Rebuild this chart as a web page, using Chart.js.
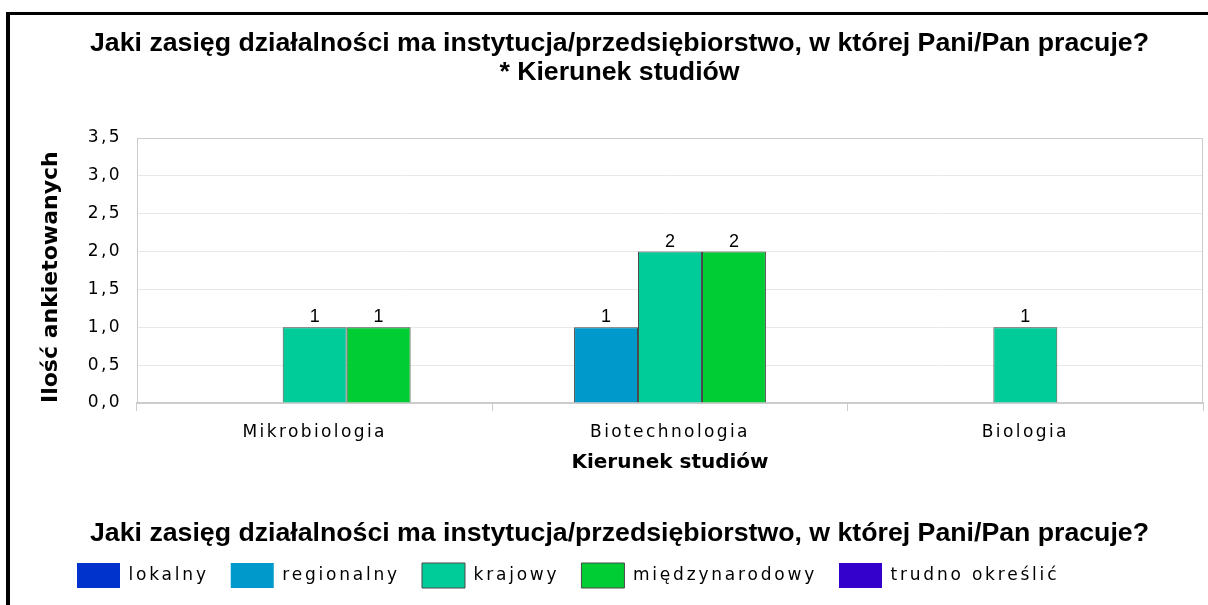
<!DOCTYPE html>
<html>
<head>
<meta charset="utf-8">
<script src="https://cdn.jsdelivr.net/npm/chart.js@4"></script>
<style>
  html, body { margin: 0; padding: 0; background: #fff; }
  #wrap { position: relative; width: 1208px; height: 605px; overflow: hidden; }
  #frame { position: absolute; left: 6px; top: 12px; right: -10px; bottom: -10px;
           border-top: 3px solid #000; border-left: 4px solid #000; pointer-events: none; }
  canvas { position: absolute; left: 0; top: 0; }
</style>
</head>
<body>
<div id="wrap">
  <canvas id="chart" width="1208" height="605"></canvas>
  <div id="frame"></div>
</div>
<script>
// data
const categories = ['Mikrobiologia', 'Biotechnologia', 'Biologia'];
const seriesNames = ['lokalny', 'regionalny', 'krajowy', 'międzynarodowy', 'trudno określić'];
const lokalny = [0, 0, 0];
const regionalny = [0, 1, 0];
const krajowy = [1, 2, 1];
const miedzynarodowy = [1, 2, 0];
const trudnoOkreslic = [0, 0, 0];
const seriesColors = ['#0033cc', '#0099cc', '#00cc99', '#00cc33', '#3300cc'];
const yMax = 3.5;
const yStep = 0.5;

const titleLines = ['Jaki zasięg działalności ma instytucja/przedsiębiorstwo, w której Pani/Pan pracuje?', '* Kierunek studiów'];
const legendTitle = 'Jaki zasięg działalności ma instytucja/przedsiębiorstwo, w której Pani/Pan pracuje?';
const yTitle = 'Ilość ankietowanych';
const xTitle = 'Kierunek studiów';

const sans = "'Liberation Sans', sans-serif";
const dejavu = "'DejaVu Sans', sans-serif";

const seriesValues = [lokalny, regionalny, krajowy, miedzynarodowy, trudnoOkreslic];

// value on top of every non-zero bar
const valueLabels = {
  id: 'valueLabels',
  afterDatasetsDraw(chart) {
    const ctx = chart.ctx;
    ctx.save();
    ctx.font = "18px 'Liberation Sans', sans-serif";
    ctx.fillStyle = '#000';
    ctx.textAlign = 'center';
    ctx.textBaseline = 'alphabetic';
    chart.data.datasets.forEach((ds, i) => {
      chart.getDatasetMeta(i).data.forEach((bar, j) => {
        if (ds.data[j]) ctx.fillText(String(ds.data[j]), bar.x, bar.y - 5);
      });
    });
    ctx.restore();
    // tick labels (z: 1) come next, they are spaced out in the original
    ctx.letterSpacing = '2.4px';
  },
  afterDraw(chart) {
    chart.ctx.letterSpacing = '0px';
  }
};

const plotFrame = {
  id: 'plotFrame',
  beforeDatasetsDraw(chart) {
    const { ctx, chartArea: a } = chart;
    ctx.save();
    ctx.strokeStyle = '#cccccc';
    ctx.lineWidth = 1;
    ctx.strokeRect(a.left + 0.5, a.top + 0.5, a.width - 1, a.height);
    ctx.restore();
  }
};

// legend row starts further right than the chart's left padding,
// and its labels use the same spaced-out lettering as the ticks
const legendTweak = {
  id: 'legendTweak',
  afterLayout(chart) {
    const lg = chart.legend;
    lg.left += 19;
    if (!lg._spaced) {
      const draw = lg.draw.bind(lg);
      lg.draw = function (area) {
        this.ctx.save();
        this.ctx.letterSpacing = '2.8px';
        draw(area);
        this.ctx.restore();
      };
      lg._spaced = true;
    }
  }
};

new Chart(document.getElementById('chart'), {
  type: 'bar',
  data: {
    labels: categories,
    datasets: seriesNames.map((name, i) => ({
      label: name,
      data: seriesValues[i],
      backgroundColor: seriesColors[i],
      borderColor: '#484848',
      borderWidth: c => (c.type === 'data' && !c.raw ? 0 : 1),
      barPercentage: 1,
      categoryPercentage: 0.9
    }))
  },
  options: {
    responsive: false,
    animation: false,
    devicePixelRatio: 1,
    layout: { padding: { left: 36, right: 5, top: 0, bottom: 7 } },
    plugins: {
      title: {
        display: true,
        text: titleLines,
        color: '#000',
        font: { family: sans, size: 26.7, weight: 'bold', lineHeight: '29px' },
        padding: { top: 29.5, bottom: 50.5 }
      },
      subtitle: {
        display: true,
        position: 'bottom',
        weight: 500,
        text: legendTitle,
        color: '#000',
        font: { family: sans, size: 26.7, weight: 'bold', lineHeight: '14px' },
        padding: { top: 18, bottom: 0 }
      },
      legend: {
        position: 'bottom',
        align: 'start',
        labels: {
          boxWidth: 43,
          boxHeight: 25,
          padding: 22,
          color: '#000',
          font: { family: dejavu, size: 17 }
        }
      },
      tooltip: { enabled: false }
    },
    scales: {
      x: {
        afterFit(scale) { scale.height = 106; },
        grid: {
          display: true,
          drawOnChartArea: false,
          drawTicks: true,
          tickLength: 8,
          color: '#cccccc',
          offset: true
        },
        border: { color: '#cccccc', width: 2 },
        ticks: {
          z: 1,
          padding: 11,
          color: '#000',
          font: { family: dejavu, size: 17 }
        },
        title: {
          display: true,
          text: xTitle,
          color: '#000',
          font: { family: dejavu, size: 20, weight: 'bold' },
          padding: { top: 0, bottom: 34 }
        }
      },
      y: {
        min: 0,
        max: yMax,
        afterFit(scale) { scale.width = 101; },
        grid: { color: '#e8e8e8', drawTicks: false },
        border: { color: '#cccccc', width: 1 },
        ticks: {
          z: 1,
          stepSize: yStep,
          padding: 15,
          color: '#000',
          font: { family: dejavu, size: 17 },
          callback: v => v.toFixed(1).replace('.', ',')
        },
        title: {
          display: true,
          text: yTitle,
          align: 'start',
          color: '#000',
          font: { family: dejavu, size: 22, weight: 'bold' },
          padding: { top: 2, bottom: 0 }
        }
      }
    }
  },
  plugins: [valueLabels, plotFrame, legendTweak]
});
</script>
</body>
</html>
